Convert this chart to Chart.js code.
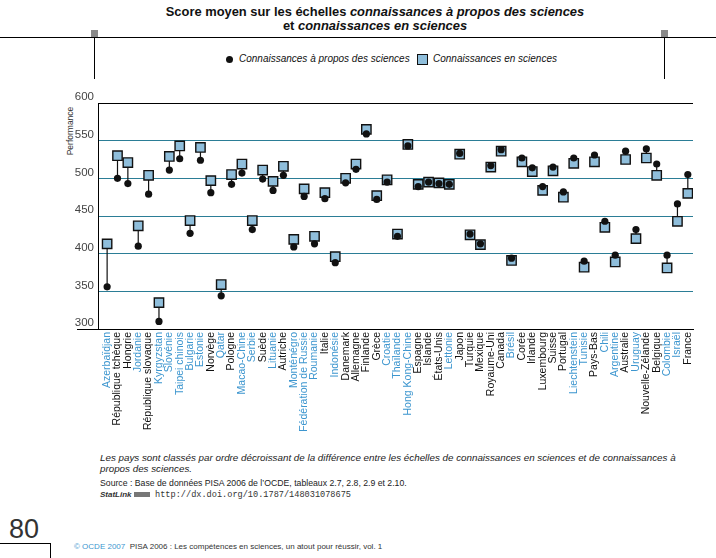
<!DOCTYPE html>
<html lang="fr">
<head>
<meta charset="utf-8">
<script src="https://cdn.jsdelivr.net/npm/chart.js@4"></script>
<style>
  html, body { margin: 0; padding: 0; background: #fff; }
  body { width: 716px; height: 558px; position: relative; overflow: hidden; font-family: "Liberation Sans", Arial, sans-serif; color: #111; }
  .abs { position: absolute; white-space: nowrap; }
  #chartBox { position: absolute; left: 0; top: 0; width: 716px; height: 450px; }
  .title { font-weight: bold; font-size: 12.9px; left: 17px; width: 716px; text-align: center; }
  .hline { position: absolute; background: #000; height: 1px; }
  .vline { position: absolute; background: #000; width: 1px; }
  .grey { position: absolute; width: 7px; height: 7px; background: #8a8a8a; }
  .legend { font-size: 10px; font-style: italic; top: 53px; }
  .dot { display: inline-block; width: 7px; height: 7px; border-radius: 50%; background: #111; vertical-align: middle; margin-right: 6px; }
  .sq { display: inline-block; width: 9px; height: 9px; background: #8fbedb; border: 1.3px solid #111; vertical-align: middle; margin-right: 5px; }
  .note { font-size: 9.8px; font-style: italic; left: 100px; color: #222; }
  .src { font-size: 8.7px; left: 100px; color: #222; }
</style>
</head>
<body>
<div class="abs title" style="top:4px;">Score moyen sur les échelles <i>connaissances à propos des sciences</i></div>
<div class="abs title" style="top:18px;">et <i>connaissances en sciences</i></div>
<div class="hline" style="left:0; top:37px; width:716px;"></div>
<div class="grey" style="left:91px; top:30px;"></div>
<div class="grey" style="left:661px; top:30px;"></div>
<div class="vline" style="left:94px; top:37px; height:42px;"></div>
<div class="vline" style="left:664px; top:37px; height:42px;"></div>
<div class="abs legend" style="left:226px;"><span class="dot"></span>Connaissances à propos des sciences</div>
<div class="abs legend" style="left:417px;"><span class="sq"></span>Connaissances en sciences</div>
<div class="abs" style="left:70px; top:131px; font-size:8.5px; color:#333; transform: translate(-50%, -50%) rotate(-90deg);">Performance</div>

<div id="chartBox"><canvas id="chart" width="716" height="450"></canvas></div>

<div class="abs note" style="top:452px;">Les pays sont classés par ordre décroissant de la différence entre les échelles de connaissances en sciences et de connaissances à</div>
<div class="abs note" style="top:463px;">propos des sciences.</div>
<div class="abs src" style="top:478px;">Source : Base de données PISA 2006 de l’OCDE, tableaux 2.7, 2.8, 2.9 et 2.10.</div>
<div class="abs" style="top:490px; left:100px; font-size:8px; color:#333;"><b><i>StatLink</i></b> <span style="display:inline-block; width:16px; height:5px; background:#777; vertical-align:middle; margin-right:3px;"></span> <span style="font-family:'Liberation Mono', monospace; font-size:8.6px;">http://dx.doi.org/10.1787/148031078675</span></div>
<div class="abs" style="left:9px; top:514px; font-size:27px; color:#333;">80</div>
<div class="hline" style="left:0; top:543px; width:50px;"></div>
<div class="vline" style="left:50px; top:543px; height:15px;"></div>
<div class="abs" style="left:74px; top:542px; font-size:8px; color:#333;"><span style="color:#3d96cf;">© OCDE 2007</span>&nbsp; PISA 2006 : Les compétences en sciences, un atout pour réussir, vol. 1</div>

<script>
// Countries, left to right
const countries = [
  'Azerbaïdjan', 'République tchèque', 'Hongrie', 'Jordanie', 'République slovaque',
  'Kyrgyzstan', 'Slovénie', 'Taipei chinois', 'Bulgarie', 'Estonie',
  'Norvège', 'Qatar', 'Pologne', 'Macao-Chine', 'Serbie',
  'Suède', 'Lituanie', 'Autriche', 'Monténégro', 'Fédération de Russie',
  'Roumanie', 'Italie', 'Indonésie', 'Danemark', 'Allemagne',
  'Finlande', 'Grèce', 'Croatie', 'Thaïlande', 'Hong Kong-Chine',
  'Espagne', 'Islande', 'États-Unis', 'Lettonie', 'Japon',
  'Turquie', 'Mexique', 'Royaume-Uni', 'Canada', 'Brésil',
  'Corée', 'Irlande', 'Luxembourg', 'Suisse', 'Portugal',
  'Liechtenstein', 'Tunisie', 'Pays-Bas', 'Chili', 'Argentine',
  'Australie', 'Uruguay', 'Nouvelle-Zélande', 'Belgique', 'Colombie',
  'Israël', 'France'
];

// 1 = partner economy (label in blue), 0 = OECD country
const isPartner = [
  1, 0, 0, 1, 0, 1, 1, 1, 1, 1,
  0, 1, 0, 1, 1, 0, 1, 0, 1, 1,
  1, 0, 1, 0, 0, 0, 0, 1, 1, 1,
  0, 0, 0, 1, 0, 0, 0, 0, 0, 1,
  0, 0, 0, 0, 0, 1, 1, 0, 1, 1,
  0, 1, 0, 0, 1, 1, 0
];

// Connaissances à propos des sciences (dots)
const aboutScience = [
  356, 500, 493, 410, 479, 310, 511, 526, 427, 524,
  481, 344, 492, 507, 432, 499, 484, 504, 409, 476,
  413, 473, 388, 494, 512, 559, 472, 495, 423, 543,
  489, 495, 493, 492, 533, 426, 413, 517, 538, 394,
  527, 514, 489, 515, 482, 527, 390, 531, 443, 398,
  536, 432, 539, 519, 398, 466, 505
];

// Connaissances en sciences (squares)
const ofScience = [
  413, 530, 521, 437, 504, 335, 529, 543, 444, 541,
  497, 359, 505, 519, 444, 511, 496, 516, 419, 486,
  423, 481, 396, 500, 519, 565, 477, 498, 426, 545,
  492, 495, 494, 492, 532, 425, 412, 515, 536, 391,
  522, 509, 484, 510, 475, 520, 382, 522, 435, 389,
  525, 420, 527, 504, 381, 443, 480
];

const yTicks = [300, 350, 400, 450, 500, 550, 600];

const gridTeal = '#2b7d96';
const labelBlue = '#3d96cf';

// stems: pairs of points, broken by a gap
const stemData = [];
countries.forEach((c, i) => {
  stemData.push({ x: i, y: aboutScience[i] });
  stemData.push({ x: i, y: ofScience[i] });
  stemData.push({ x: i, y: null });
});

// axis lines: left axis, and bottom line running a bit left of it
const axisLines = {
  id: 'axisLines',
  afterDraw(chart) {
    const { ctx, chartArea } = chart;
    const b = Math.round(chartArea.bottom) + 0.5;
    const l = Math.round(chartArea.left) + 0.5;
    ctx.save();
    ctx.strokeStyle = '#000';
    ctx.lineWidth = 1;
    ctx.beginPath();
    ctx.moveTo(77, b);
    ctx.lineTo(chartArea.left, b);
    ctx.moveTo(l, chartArea.top);
    ctx.lineTo(l, b);
    ctx.stroke();
    ctx.restore();
  }
};

Chart.defaults.font.family = '"Liberation Sans", Arial, sans-serif';

new Chart(document.getElementById('chart').getContext('2d'), {
  type: 'scatter',
  data: {
    datasets: [
      {
        label: 'stems',
        type: 'line',
        data: stemData,
        borderColor: '#111',
        borderWidth: 1.2,
        pointRadius: 0,
        spanGaps: false,
        order: 3
      },
      {
        label: 'Connaissances en sciences',
        data: countries.map((c, i) => ({ x: i, y: ofScience[i] })),
        pointStyle: 'rect',
        pointRadius: 6.6,
        backgroundColor: '#8fbedb',
        borderColor: '#111',
        borderWidth: 1.4,
        order: 2
      },
      {
        label: 'Connaissances à propos des sciences',
        data: countries.map((c, i) => ({ x: i, y: aboutScience[i] })),
        pointStyle: 'circle',
        pointRadius: 3.6,
        backgroundColor: '#111',
        borderColor: '#111',
        borderWidth: 0,
        order: 1
      }
    ]
  },
  options: {
    responsive: false,
    animation: false,
    layout: { padding: { left: 0, right: 23, top: 103, bottom: 0 } },
    plugins: { legend: { display: false }, tooltip: { enabled: false } },
    scales: {
      x: {
        type: 'linear',
        min: -0.88,
        max: 56.5,
        afterFit: (s) => { s.height = 121; },
        grid: { display: false, drawTicks: false },
        border: { display: true, color: '#000', width: 1 },
        ticks: {
          stepSize: 1,
          autoSkip: false,
          includeBounds: false,
          maxRotation: 90,
          minRotation: 90,
          padding: 3,
          font: { size: 10.5 },
          color: (ctx) => (isPartner[ctx.tick.value] ? labelBlue : '#111'),
          callback: (value) => countries[value] ?? ''
        }
      },
      y: {
        min: 300,
        max: 600,
        afterFit: (s) => { s.width = 98; },
        afterBuildTicks: (s) => { s.ticks = yTicks.map(v => ({ value: v })); },
        grid: {
          drawTicks: false,
          lineWidth: 1,
          color: (ctx) => (ctx.tick.value === 600 || ctx.tick.value === 300 ? '#000' : gridTeal)
        },
        border: { display: true, color: '#000', width: 1 },
        ticks: {
          padding: 4,
          labelOffset: -6,
          font: { size: 11.5 },
          color: '#444'
        }
      }
    }
  },
  plugins: [axisLines]
});
</script>
</body>
</html>
